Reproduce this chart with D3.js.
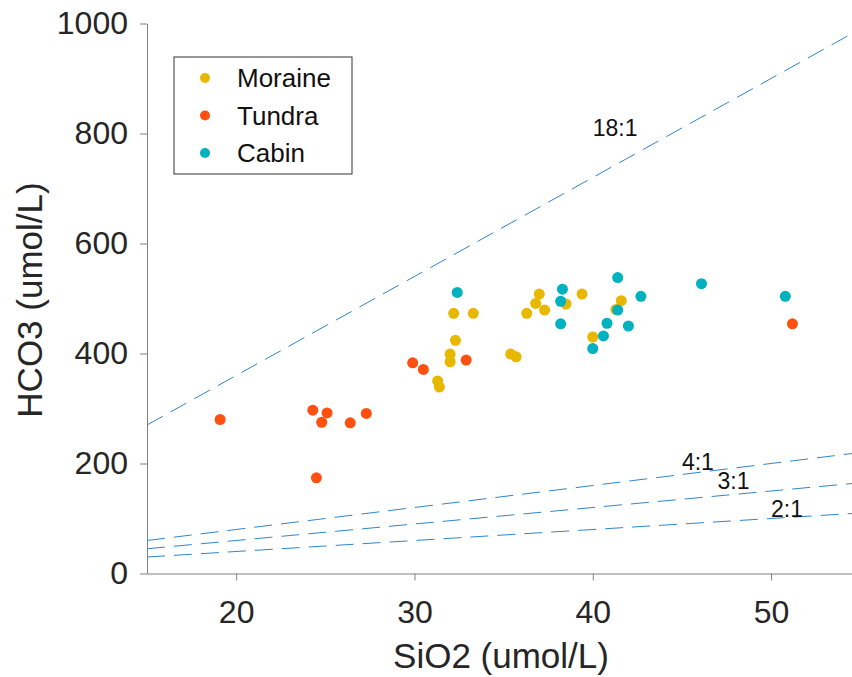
<!DOCTYPE html>
<html>
<head>
<meta charset="utf-8">
<script src="https://cdn.jsdelivr.net/npm/d3@7"></script>
<style>
  body { margin: 0; background: #fff; }
  svg { display: block; font-family: "Liberation Sans", Arial, Helvetica, sans-serif; }
</style>
</head>
<body>
<svg id="chart" width="852" height="677"></svg>
<script>
// SiO2 vs HCO3 samples, one pair of arrays per site
const moraineSi   = [32.2, 33.3, 32.3, 32.0, 32.0, 31.3, 31.4, 35.4, 35.7, 37.0, 36.8, 36.3, 37.3, 38.5, 39.4, 41.6, 41.3, 40.0];
const moraineHco3 = [473, 473, 424, 399, 385, 350, 339, 399, 394, 508, 491, 473, 479, 490, 508, 496, 480, 430];
const tundraSi    = [19.1, 24.3, 25.1, 24.8, 26.4, 27.3, 24.5, 29.9, 30.5, 32.9, 51.2];
const tundraHco3  = [280, 297, 292, 275, 274, 291, 174, 383, 371, 388, 454];
const cabinSi     = [32.4, 38.3, 38.2, 38.2, 41.4, 41.4, 42.7, 40.8, 40.6, 42.0, 40.0, 46.1, 50.8];
const cabinHco3   = [511, 517, 495, 454, 538, 479, 504, 455, 432, 450, 409, 527, 504];

const siteNames  = ["Moraine", "Tundra", "Cabin"];
const siteColors = ["#e8b700", "#ff5010", "#00b1bf"];

// HCO3:SiO2 reference ratios and where their labels sit
const ratios      = [18, 4, 3, 2];
const ratioLabels = ["18:1", "4:1", "3:1", "2:1"];
const labelX      = [40, 45, 47, 50];
const labelY      = [810, 202, 168, 117];

const xTicks = [20, 30, 40, 50];
const yTicks = [0, 200, 400, 600, 800, 1000];

const svg = d3.select("#chart");

const xScale = d3.scaleLinear().domain([15, 55]).range([147, 860.2]);
const yScale = d3.scaleLinear().domain([0, 1000]).range([573.5, 23.5]);

svg.append("defs").append("clipPath").attr("id", "plotClip")
  .append("rect")
  .attr("x", 147).attr("y", 23.5)
  .attr("width", 713).attr("height", 550);

// dashed ratio lines
const line = d3.line().x(d => xScale(d[0])).y(d => yScale(d[1]));
svg.append("g").attr("clip-path", "url(#plotClip)")
  .selectAll("path")
  .data(ratios)
  .enter().append("path")
  .attr("d", r => line([[15, 15 * r], [55, 55 * r]]))
  .attr("fill", "none")
  .attr("stroke", "#2f86cc")
  .attr("stroke-width", 1)
  .attr("stroke-dasharray", "18,9");

svg.append("g").selectAll("text")
  .data(ratioLabels)
  .enter().append("text")
  .attr("x", (d, i) => xScale(labelX[i]))
  .attr("y", (d, i) => yScale(labelY[i]))
  .attr("dy", "0.35em")
  .style("font-size", "23px")
  .style("fill", "#111")
  .text(d => d);

// axes
const xAxis = svg.append("g")
  .attr("transform", `translate(0,${yScale(0)})`)
  .call(d3.axisBottom(xScale).tickValues(xTicks).tickFormat(d3.format("d"))
    .tickSize(7).tickSizeOuter(0).tickPadding(20));

const yAxis = svg.append("g")
  .attr("transform", `translate(${xScale(15)},0)`)
  .call(d3.axisLeft(yScale).tickValues(yTicks).tickFormat(d3.format("d"))
    .tickSize(7).tickSizeOuter(0).tickPadding(12));

[xAxis, yAxis].forEach(ax => {
  ax.select(".domain").attr("stroke", "#808080");
  ax.selectAll(".tick line").attr("stroke", "#808080");
  ax.selectAll("text")
    .style("font-size", "32px")
    .style("fill", "#262626")
    .attr("font-family", null);
});

svg.append("text")
  .attr("x", 501).attr("y", 668)
  .style("text-anchor", "middle")
  .style("font-size", "35px")
  .style("fill", "#262626")
  .text("SiO2 (umol/L)");

svg.append("text")
  .attr("transform", "translate(42,300) rotate(-90)")
  .style("text-anchor", "middle")
  .style("font-size", "35px")
  .style("fill", "#262626")
  .text("HCO3 (umol/L)");

// sample points
const series = [
  { si: moraineSi, hco3: moraineHco3 },
  { si: tundraSi, hco3: tundraHco3 },
  { si: cabinSi, hco3: cabinHco3 }
];

series.forEach((s, k) => {
  svg.append("g").selectAll("circle")
    .data(s.si.map((x, i) => [x, s.hco3[i]]))
    .enter().append("circle")
    .attr("cx", d => xScale(d[0]))
    .attr("cy", d => yScale(d[1]))
    .attr("r", 5.5)
    .attr("fill", siteColors[k]);
});

// legend
const legend = svg.append("g").attr("transform", "translate(174,57)");
legend.append("rect")
  .attr("width", 178).attr("height", 117)
  .attr("fill", "#fff")
  .attr("stroke", "#333")
  .attr("stroke-width", 1);

const rows = legend.selectAll(".legendRow")
  .data(siteNames)
  .enter().append("g")
  .attr("class", "legendRow")
  .attr("transform", (d, i) => `translate(0,${21 + i * 37.5})`);

rows.append("circle")
  .attr("cx", 31).attr("r", 5)
  .attr("fill", (d, i) => siteColors[i]);

rows.append("text")
  .attr("x", 63).attr("dy", "0.35em")
  .style("font-size", "26px")
  .style("fill", "#111")
  .text(d => d);
</script>
</body>
</html>
